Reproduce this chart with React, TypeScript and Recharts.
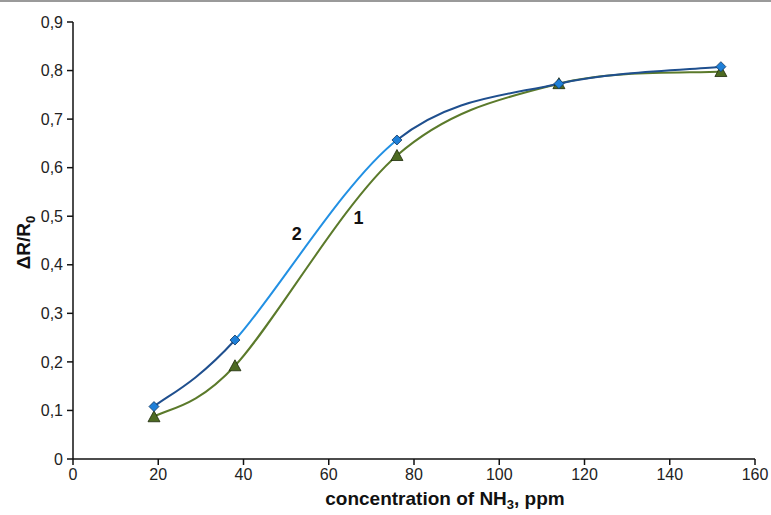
import {
  LineChart,
  Line,
  XAxis,
  YAxis,
  ReferenceDot
} from 'recharts'

const concentration = [19, 38, 76, 114, 152]
const response1 = [0.087, 0.192, 0.625, 0.773, 0.798]
const response2 = [0.108, 0.245, 0.657, 0.773, 0.808]
const xTicks = [0, 20, 40, 60, 80, 100, 120, 140, 160]
const yTicks = [0, 0.1, 0.2, 0.3, 0.4, 0.5, 0.6, 0.7, 0.8, 0.9]
const curveLabels = [
  { text: '2', x: 52.5, y: 0.465 },
  { text: '1', x: 67, y: 0.497 }
]

const chartData = concentration.map((c, i) => ({
  c,
  s1: response1[i],
  s2: response2[i]
}))

const fmt = (v: number) => String(Number(v.toFixed(1))).replace('.', ',')

// excel-style smoothed line (catmull-rom through the points)
const smooth = (context: any) => {
  let pts: number[][] = []
  const k = 1 / 6
  return {
    areaStart() {},
    areaEnd() {},
    lineStart() {
      pts = []
    },
    point(x: number, y: number) {
      pts.push([+x, +y])
    },
    lineEnd() {
      if (!pts.length) return
      context.moveTo(pts[0][0], pts[0][1])
      for (let i = 0; i < pts.length - 1; i++) {
        const p0 = pts[i - 1] || pts[i]
        const p1 = pts[i]
        const p2 = pts[i + 1]
        const p3 = pts[i + 2] || pts[i + 1]
        context.bezierCurveTo(
          p1[0] + k * (p2[0] - p0[0]),
          p1[1] + k * (p2[1] - p0[1]),
          p2[0] - k * (p3[0] - p1[0]),
          p2[1] - k * (p3[1] - p1[1]),
          p2[0],
          p2[1]
        )
      }
    }
  }
}

const Diamond = (props: any) => {
  const { cx, cy } = props
  if (cx == null || cy == null) return null
  const r = 5
  return (
    <path
      d={`M${cx},${cy - r}L${cx + r},${cy}L${cx},${cy + r}L${cx - r},${cy}Z`}
      fill="#1e7fd8"
      stroke="#10365e"
      strokeWidth={0.8}
    />
  )
}

const Triangle = (props: any) => {
  const { cx, cy } = props
  if (cx == null || cy == null) return null
  return (
    <path
      d={`M${cx},${cy - 6}L${cx + 6},${cy + 5}L${cx - 6},${cy + 5}Z`}
      fill="#4d6a22"
      stroke="#1d2a0a"
      strokeWidth={0.8}
    />
  )
}

const YTitle = (props: any) => {
  const { viewBox } = props
  const x = 30
  const y = viewBox.y + viewBox.height / 2 + 2
  return (
    <text
      x={x}
      y={y}
      transform={`rotate(-90 ${x} ${y})`}
      textAnchor="middle"
      fontWeight="bold"
      fontSize={19}
      fill="#111"
    >
      ΔR/R
      <tspan fontSize={13} dy={5}>0</tspan>
    </text>
  )
}

const XTitle = (props: any) => {
  const { viewBox } = props
  const x = viewBox.x + viewBox.width / 2 + 31
  const y = 505
  return (
    <text x={x} y={y} textAnchor="middle" fontWeight="bold" fontSize={19} fill="#111">
      concentration of NH
      <tspan fontSize={13} dy={4}>3</tspan>
      <tspan dy={-4}>, ppm</tspan>
    </text>
  )
}

export default function App() {
  return (
    <div
      style={{
        position: 'fixed',
        top: 0,
        left: 0,
        width: 771,
        height: 515,
        background: '#fff',
        fontFamily: 'Arial, "Liberation Sans", sans-serif'
      }}
    >
      <div style={{ position: 'absolute', top: 0, left: 0, width: 771, height: 2, background: '#9a9a9a' }} />
      <LineChart
        width={771}
        height={515}
        data={chartData}
        margin={{ top: 22, right: 16, left: 0, bottom: 0 }}
      >
        <defs>
          <linearGradient id="blueLine" x1="0" y1="0" x2="1" y2="0">
            <stop offset="0" stopColor="#1f4f8e" />
            <stop offset="0.143" stopColor="#1f4f8e" />
            <stop offset="0.143" stopColor="#2290e3" />
            <stop offset="0.429" stopColor="#2290e3" />
            <stop offset="0.429" stopColor="#1f4f8e" />
            <stop offset="1" stopColor="#1f4f8e" />
          </linearGradient>
        </defs>
        <XAxis
          dataKey="c"
          type="number"
          domain={[0, 160]}
          ticks={xTicks}
          height={56}
          stroke="#111"
          strokeWidth={1.5}
          tickSize={6}
          tickMargin={4}
          tick={{ fill: '#222', fontSize: 16 }}
          label={<XTitle />}
        />
        <YAxis
          type="number"
          domain={[0, 0.9]}
          ticks={yTicks}
          width={73}
          stroke="#111"
          strokeWidth={1.5}
          tickSize={6}
          tickMargin={4}
          tickFormatter={fmt}
          tick={{ fill: '#222', fontSize: 16 }}
          label={<YTitle />}
        />
        <Line
          type={smooth as any}
          dataKey="s1"
          stroke="#5b7a2b"
          strokeWidth={2}
          dot={<Triangle />}
          activeDot={false}
          isAnimationActive={false}
        />
        <Line
          type={smooth as any}
          dataKey="s2"
          stroke="url(#blueLine)"
          strokeWidth={2}
          dot={<Diamond />}
          activeDot={false}
          isAnimationActive={false}
        />
        {curveLabels.map((l) => (
          <ReferenceDot
            key={l.text}
            x={l.x}
            y={l.y}
            r={0}
            fill="none"
            stroke="none"
            label={{ value: l.text, position: 'center', fontSize: 18, fontWeight: 'bold', fill: '#111' }}
          />
        ))}
      </LineChart>
    </div>
  )
}
